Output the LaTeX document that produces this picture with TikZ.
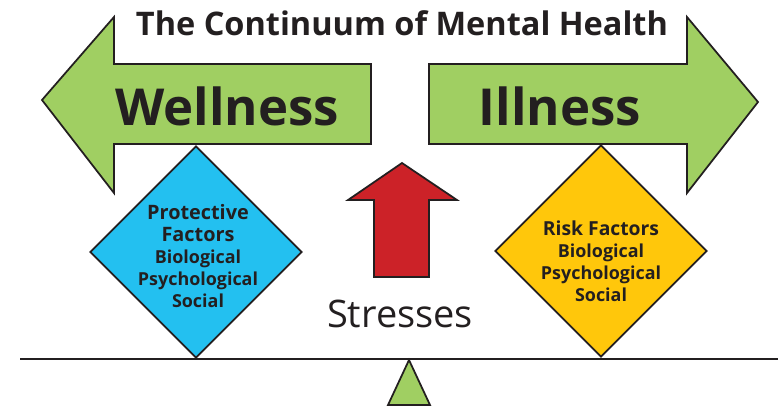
\documentclass[tikz,border=0pt]{standalone}
\usepackage{fontspec}
\setmainfont{Open Sans}
\usetikzlibrary{positioning, shapes.geometric, calc}
\definecolor{wellgreen}{RGB}{160,207,98}
\definecolor{protblue}{RGB}{35,192,240}
\definecolor{riskyellow}{RGB}{255,199,11}
\definecolor{stressred}{RGB}{204,34,40}
\definecolor{ink}{RGB}{35,31,32}
\tikzset{
  shapeline/.style={
    draw=ink,
    line width=1pt,
    line join=miter
  },
  factor/.style={
    shapeline,
    diamond,
    aspect=1,
    inner sep=0pt,
    minimum width=4.24cm,
    minimum height=4.24cm
  },
  factortext/.style={
    align=center,
    text=ink,
    font=\bfseries\fontsize{10.2}{12.6}\selectfont
  },
  bigword/.style={
    text=ink,
    inner sep=0pt,
    font=\bfseries\fontsize{29}{29}\selectfont
  }
}

\begin{document}
\begin{tikzpicture}[x=0.02cm, y=-0.02cm]
    \useasboundingbox (0,0) rectangle (783,409);

    % the two green arrows
    \draw[shapeline, fill=wellgreen] (42,100) -- (114,17) -- (114,64) -- (371,64)
        -- (371,144) -- (114,144) -- (114,193) -- cycle;
    \draw[shapeline, fill=wellgreen] (758,102) -- (687,17) -- (687,64) -- (429,64)
        -- (429,144) -- (687,144) -- (687,193) -- cycle;

    \node[bigword, anchor=base] (wellness) at (227,125) {Wellness};
    \node[bigword, anchor=base] (illness) at (560,125) {Illness};
    \node[text=ink, inner sep=0pt, anchor=base, font=\bfseries\fontsize{18.5}{18.5}\selectfont]
        (title) at (402,35) {The Continuum of Mental Health};

    % factors
    \node[factor, fill=protblue] (protect) at (196,252) {};
    \node[factor, fill=riskyellow] (risk) at (601,251) {};
    \node[factortext] (protecttxt) at (198,256) {{\fontsize{11.3}{12.6}\selectfont Protective}\\
        {\fontsize{11.3}{12.6}\selectfont Factors}\\ Biological\\ Psychological\\ Social};
    \node[factortext] (risktxt) at (601,261) {{\fontsize{11}{12.6}\selectfont Risk Factors}\\
        Biological\\ Psychological\\ Social};

    % stresses
    \draw[shapeline, fill=stressred] (402,163) -- (457,200) -- (429,200) -- (429,277)
        -- (374,277) -- (374,200) -- (348,200) -- cycle;
    \node[text=ink, inner sep=0pt, anchor=base, font=\fontsize{21.6}{21.6}\selectfont]
        (stress) at (400,327) {Stresses};

    % balance
    \coordinate (beamleft) at (20,359);
    \coordinate (beamright) at (778,359);
    \coordinate (pivot) at (409,360);
    \draw[ink, line width=1pt] (beamleft) -- (beamright);
    \draw[shapeline, fill=wellgreen] (pivot) -- (430,405) -- (388,405) -- cycle;
\end{tikzpicture}
\end{document}
